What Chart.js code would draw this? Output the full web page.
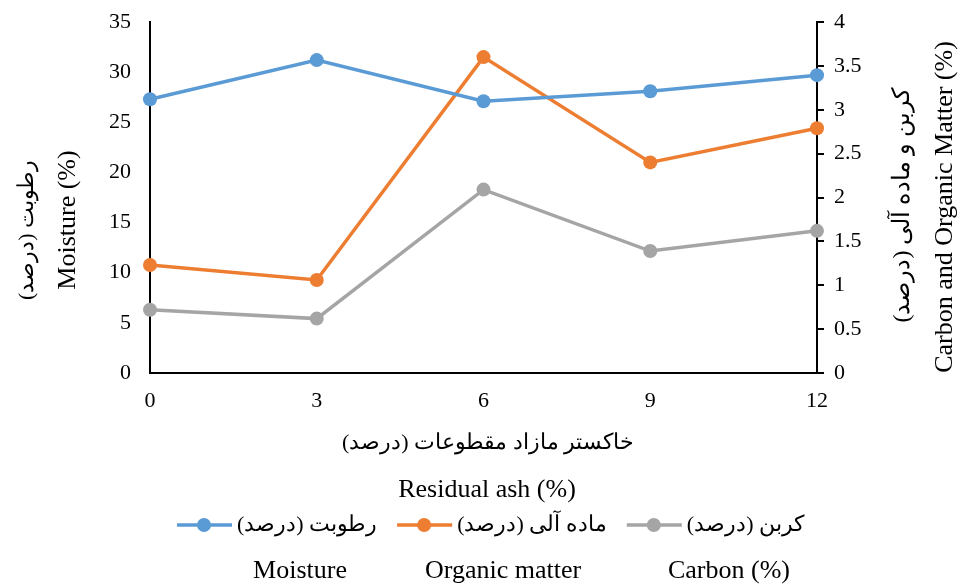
<!DOCTYPE html>
<html>
<head>
<meta charset="utf-8">
<script src="https://cdn.jsdelivr.net/npm/chart.js@4/dist/chart.umd.min.js"></script>
<style>
  html, body { margin: 0; padding: 0; background: #fff; }
  #wrap { width: 958px; height: 586px; }
</style>
</head>
<body>
<div id="wrap"><canvas id="myChart" width="958" height="586"></canvas></div>
<script>
// residual ash levels (%)
const ashLevels = [0, 3, 6, 9, 12];
// moisture on left axis, organic matter and carbon on right axis
const moisture = [27.3, 31.2, 27.1, 28.1, 29.7];
const organicMatter = [1.23, 1.06, 3.60, 2.40, 2.79];
const carbon = [0.72, 0.62, 2.09, 1.39, 1.62];

const seriesNames = ["رطوبت (درصد)", "ماده آلی (درصد)", "کربن (درصد)"];
const seriesNamesEn = ["Moisture", "Organic matter", "Carbon (%)"];
const colors = ["#5B9BD5", "#ED7D31", "#A5A5A5"];

const serif = "'Liberation Serif', 'Times New Roman', serif";
const tickFont = { family: serif, size: 22 };

const toPoints = vals => vals.map((v, i) => ({ x: ashLevels[i], y: v }));

function lineSet(label, vals, color, axis) {
    return {
        label: label,
        data: toPoints(vals),
        yAxisID: axis,
        borderColor: color,
        backgroundColor: color,
        borderWidth: 3.5,
        pointRadius: 7,
        pointBorderWidth: 0,
        tension: 0,
        clip: false
    };
}

// fixed box sizes so the plot area lands where it should
function fitY(width) {
    return s => {
        s.width = width;
        s.paddingTop = 0;
        s.paddingBottom = 0;
    };
}

// titles, legend and english captions drawn by hand
const extraText = {
    id: "extraText",
    afterDraw(chart) {
        const ctx = chart.ctx;
        ctx.save();
        ctx.fillStyle = "#000";
        ctx.textBaseline = "middle";
        ctx.textAlign = "center";

        function vText(txt, x, y, size, rtl) {
            ctx.save();
            ctx.translate(x, y);
            ctx.rotate(-Math.PI / 2);
            ctx.direction = rtl ? "rtl" : "ltr";
            ctx.textAlign = "center";
            ctx.font = size + "px " + serif;
            ctx.fillText(txt, 0, 0);
            ctx.restore();
        }
        function hText(txt, x, y, size, rtl, align) {
            ctx.direction = rtl ? "rtl" : "ltr";
            ctx.textAlign = align || "center";
            ctx.font = size + "px " + serif;
            ctx.fillText(txt, x, y);
        }

        // left axis title
        vText("رطوبت (درصد)", 27, 230, 22, true);
        vText("Moisture (%)", 68, 220, 26, false);
        // right axis title
        vText("کربن و ماده آلی (درصد)", 903, 205, 24, true);
        vText("Carbon and Organic Matter (%)", 945, 207, 26, false);
        // x axis title
        hText("خاکستر مازاد مقطوعات (درصد)", 488, 443, 22, true);
        hText("Residual ash (%)", 487, 490, 26, false);

        // legend row
        let x = 177;
        const ly = 525;
        seriesNames.forEach((name, i) => {
            ctx.strokeStyle = colors[i];
            ctx.lineWidth = 3.5;
            ctx.beginPath();
            ctx.moveTo(x, ly);
            ctx.lineTo(x + 55, ly);
            ctx.stroke();
            ctx.fillStyle = colors[i];
            ctx.beginPath();
            ctx.arc(x + 27, ly, 7, 0, Math.PI * 2);
            ctx.fill();
            ctx.fillStyle = "#000";
            ctx.font = "22px " + serif;
            ctx.direction = "rtl";
            const w = ctx.measureText(name).width;
            hText(name, x + 60 + w, ly, 22, true, "right");
            x += 60 + w + 20;
        });

        // english captions under the legend
        const capX = [300, 503, 729];
        seriesNamesEn.forEach((t, i) => hText(t, capX[i], 571, 26, false));
        ctx.restore();
    }
};

new Chart(document.getElementById("myChart"), {
    type: "line",
    data: {
        datasets: [
            lineSet(seriesNames[0], moisture, colors[0], "y"),
            lineSet(seriesNames[1], organicMatter, colors[1], "y1"),
            lineSet(seriesNames[2], carbon, colors[2], "y1")
        ]
    },
    options: {
        responsive: false,
        animation: false,
        layout: { padding: { top: 22, left: 0, right: 0, bottom: 0 } },
        plugins: {
            legend: { display: false },
            tooltip: { enabled: false }
        },
        scales: {
            x: {
                type: "linear",
                min: 0,
                max: 12,
                afterFit: s => { s.height = 213; s.paddingLeft = 0; s.paddingRight = 0; },
                ticks: { stepSize: 3, padding: 15, color: "#000", font: tickFont },
                grid: { display: true, drawOnChartArea: false, drawTicks: false },
                border: { color: "#000", width: 2 }
            },
            y: {
                position: "left",
                min: 0,
                max: 35,
                afterFit: fitY(150),
                ticks: { stepSize: 5, padding: 19, color: "#000", font: tickFont },
                grid: { display: true, drawOnChartArea: false, drawTicks: false },
                border: { color: "#000", width: 2 }
            },
            y1: {
                position: "right",
                min: 0,
                max: 4,
                afterFit: fitY(141),
                ticks: {
                    stepSize: 0.5, padding: 10, color: "#000", font: tickFont,
                    callback: v => String(v)
                },
                grid: { display: true, drawOnChartArea: false, drawTicks: true, tickLength: 7, color: "#000", lineWidth: 2 },
                border: { color: "#000", width: 2 }
            }
        }
    },
    plugins: [extraText]
});
</script>
</body>
</html>
